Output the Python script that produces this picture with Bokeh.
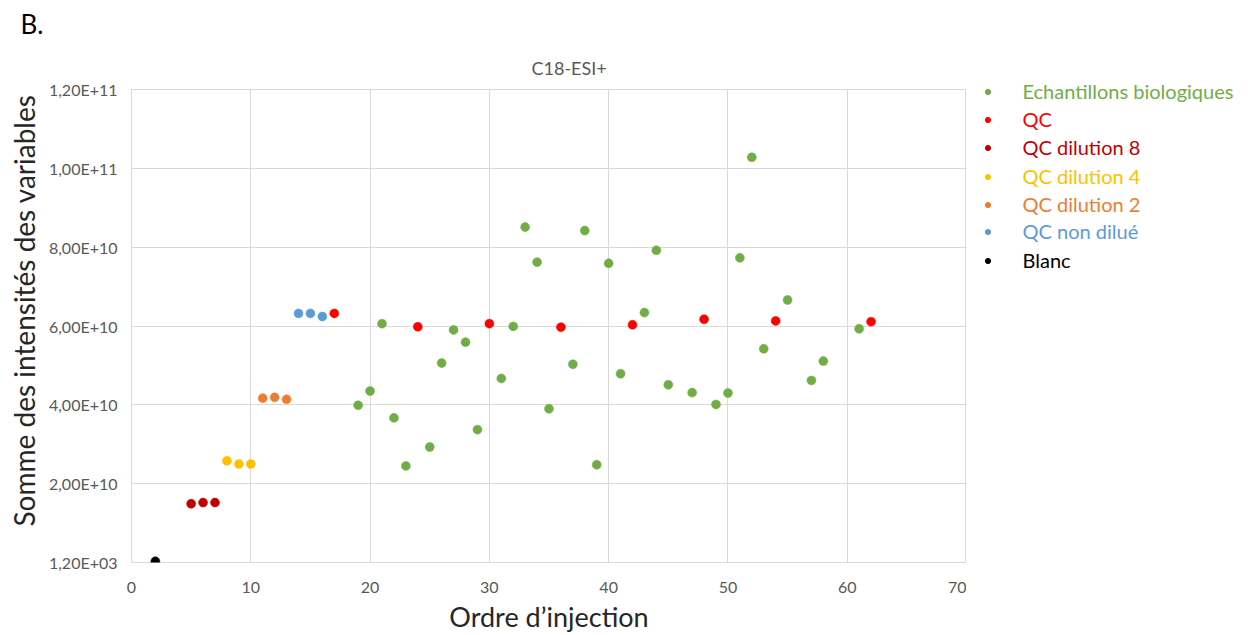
from bokeh.plotting import figure
from bokeh.models import Range1d, FixedTicker, Legend, LegendItem, Title
from bokeh.layouts import row
from bokeh.embed import file_html
from bokeh.resources import INLINE

# ---- data ----
bio_x = [19, 20, 21, 22, 23, 25, 26, 27, 28, 29, 31, 32, 33, 34, 35, 37, 38, 39, 40, 41,
         43, 44, 45, 47, 49, 50, 51, 52, 53, 55, 57, 58, 61]
bio_y = [3.99e10, 4.35e10, 6.06e10, 3.67e10, 2.45e10, 2.93e10, 5.06e10, 5.90e10, 5.59e10, 3.37e10,
         4.67e10, 5.99e10, 8.51e10, 7.62e10, 3.90e10, 5.03e10, 8.42e10, 2.48e10, 7.59e10, 4.79e10,
         6.34e10, 7.92e10, 4.51e10, 4.31e10, 4.01e10, 4.30e10, 7.73e10, 1.028e11, 5.42e10, 6.66e10,
         4.62e10, 5.11e10, 5.93e10]
qc_x = [17, 24, 30, 36, 42, 48, 54, 62]
qc_y = [6.32e10, 5.98e10, 6.06e10, 5.97e10, 6.03e10, 6.17e10, 6.13e10, 6.11e10]
qc8_x = [5, 6, 7]
qc8_y = [1.49e10, 1.52e10, 1.52e10]
qc4_x = [8, 9, 10]
qc4_y = [2.58e10, 2.50e10, 2.50e10]
qc2_x = [11, 12, 13]
qc2_y = [4.17e10, 4.19e10, 4.14e10]
qcnd_x = [14, 15, 16]
qcnd_y = [6.32e10, 6.32e10, 6.24e10]
blanc_x = [2]
blanc_y = [3e8]

series_names = ["Echantillons biologiques", "QC", "QC dilution 8", "QC dilution 4",
                "QC dilution 2", "QC non dilué", "Blanc"]
series_colors = ["#70AD47", "#FF0000", "#C00000", "#FFC000", "#ED7D31", "#5B9BD5", "#000000"]
series_x = [bio_x, qc_x, qc8_x, qc4_x, qc2_x, qcnd_x, blanc_x]
series_y = [bio_y, qc_y, qc8_y, qc4_y, qc2_y, qcnd_y, blanc_y]

x_ticks = [0, 10, 20, 30, 40, 50, 60, 70]
y_ticks = [1200, 2e10, 4e10, 6e10, 8e10, 1e11, 1.2e11]
y_tick_labels = ["1,20E+03", "2,00E+10", "4,00E+10", "6,00E+10", "8,00E+10", "1,00E+11", "1,20E+11"]

FONT = "Lato"

W, H = 1248, 635
FL, FT, FR, FB = 131, 89, 966, 563  # frame edges in page pixels
MAIN_W = FR                           # main figure ends at the frame's right edge
LEG_W = W - MAIN_W

p = figure(width=MAIN_W, height=H, output_backend="svg", toolbar_location=None,
           x_range=Range1d(0, 70), y_range=Range1d(1200, 1.2e11),
           min_border_left=FL, min_border_right=0, min_border_top=FT,
           min_border_bottom=H - FB)
p.frame_align = False

# panel letter (outermost title)
p.title.text = "B."
p.title.align = "left"
p.title.offset = 20 - FL
p.title.text_font = FONT
p.title.text_font_size = "26px"
p.title.text_font_style = "normal"
p.title.text_color = "#000000"
p.title.standoff = 10

# chart title (closest to the frame)
p.add_layout(Title(text="C18-ESI+", align="left", offset=531 - FL, text_font=FONT,
                   text_font_size="18px", text_font_style="normal",
                   text_color="#595959", standoff=21), "above")

p.outline_line_color = "#d9d9d9"
p.background_fill_color = "white"
p.border_fill_color = "white"

p.xaxis.ticker = FixedTicker(ticks=x_ticks)
p.yaxis.ticker = FixedTicker(ticks=y_ticks)
p.yaxis.major_label_overrides = {int(t): lab for t, lab in zip(y_ticks, y_tick_labels)}

for ax in (p.xaxis[0], p.yaxis[0]):
    ax.axis_line_color = None
    ax.major_tick_line_color = None
    ax.minor_tick_line_color = None
    ax.major_tick_out = 0
    ax.major_tick_in = 0
    ax.major_label_text_font = FONT
    ax.major_label_text_font_size = "16px"
    ax.major_label_text_color = "#595959"
    ax.axis_label_text_font = FONT
    ax.axis_label_text_font_size = "27px"
    ax.axis_label_text_font_style = "normal"
    ax.axis_label_text_color = "#262626"

p.xaxis.major_label_standoff = 19
p.yaxis.major_label_standoff = 14

p.xaxis.axis_label = "Ordre d\u2019injection"
p.xaxis.axis_label_standoff = 4

# y-axis title: a side-panel title so it can sit slightly above the frame centre
p.add_layout(Title(text="Somme des intensités des variables", align="left", offset=36,
                   text_font=FONT, text_font_size="28px", text_font_style="normal",
                   text_color="#262626", standoff=9), "left")

p.xgrid.grid_line_color = "#d9d9d9"
p.ygrid.grid_line_color = "#d9d9d9"

for xs, ys, c in zip(series_x, series_y, series_colors):
    p.scatter(x=xs, y=ys, size=9, fill_color=c, line_color=c, line_width=0.5,
              marker="circle")

# ---- legend panel (separate figure so the entries are not clipped) ----
lg = figure(width=LEG_W, height=H, output_backend="svg", toolbar_location=None,
            title=None, x_range=Range1d(0, 1), y_range=Range1d(0, 1),
            min_border=0, min_border_left=0, min_border_right=0,
            min_border_top=0, min_border_bottom=0)
lg.frame_align = False
lg.axis.visible = False
lg.grid.visible = False
lg.outline_line_color = None
lg.background_fill_color = "white"
lg.border_fill_color = "white"

row_centers = [91, 119, 147, 176, 204, 231, 260]
item_h = 24
for name, c, xs, ys, cy in zip(series_names, series_colors, series_x, series_y, row_centers):
    # legend swatch renderer: first point of the series, which lies outside this panel's ranges
    proxy = lg.scatter(x=xs[:1], y=ys[:1], marker="circle", fill_color=c, line_color=c)
    leg = Legend(items=[LegendItem(label=name, renderers=[proxy])],
                 location=(21 - 6.5, H - (cy + item_h / 2)),
                 glyph_width=13, glyph_height=13, label_height=item_h,
                 label_standoff=29, padding=0, margin=0, spacing=0,
                 border_line_color=None, background_fill_alpha=0,
                 label_text_font=FONT, label_text_font_size="20px",
                 label_text_color=c, label_text_baseline="middle")
    lg.add_layout(leg, "center")

layout = row(p, lg, spacing=0)
open("out.html", "w").write(file_html(layout, INLINE))
